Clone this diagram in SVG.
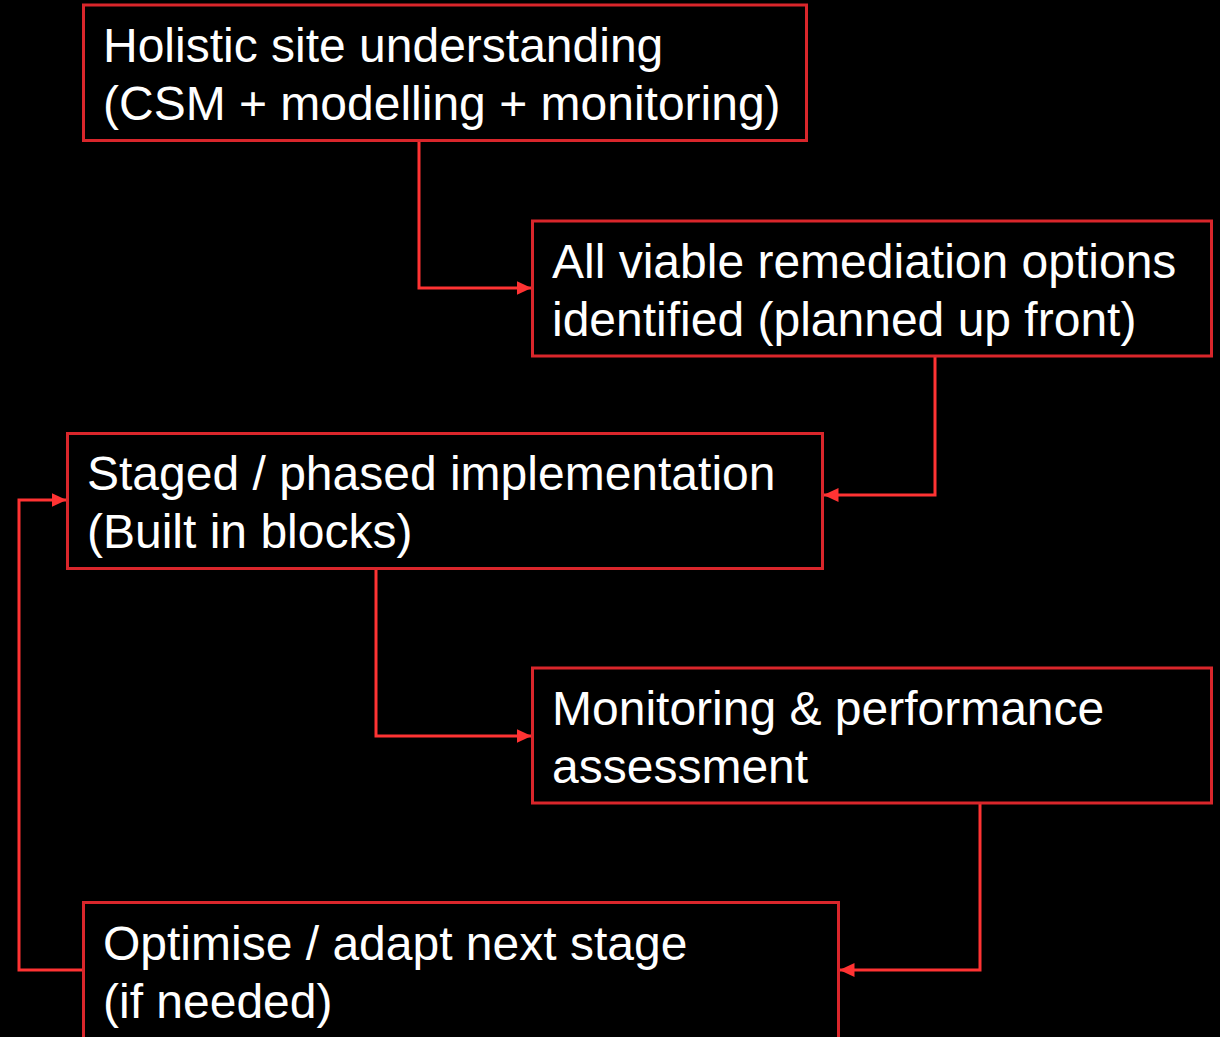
<svg xmlns="http://www.w3.org/2000/svg" width="1220" height="1037" viewBox="0 0 1220 1037">
  <style>
    .box { fill: #000; stroke: #d9262b; stroke-width: 3; }
    .label { font-family: "Liberation Sans", Arial, sans-serif; font-size: 48px; fill: #fff; }
    .link { fill: none; stroke: #ff3333; stroke-width: 3; }
  </style>
  <defs>
    <marker id="arrow" viewBox="0 0 15 14" refX="14.5" refY="7" markerWidth="15" markerHeight="14" markerUnits="userSpaceOnUse" orient="auto">
      <path d="M0,0 L15,7 L0,14 Z" fill="#ff3333"/>
    </marker>
  </defs>
  <rect width="1220" height="1037" fill="#000"/>

  <g id="connectors">
    <path class="link" d="M419,141 V288 H531" marker-end="url(#arrow)"/>
    <path class="link" d="M935,356 V495 H824" marker-end="url(#arrow)"/>
    <path class="link" d="M376,569 V736 H531" marker-end="url(#arrow)"/>
    <path class="link" d="M980,803 V970 H840" marker-end="url(#arrow)"/>
    <path class="link" d="M83,970 H19 V500 H66" marker-end="url(#arrow)"/>
  </g>

  <g id="node-understanding">
    <rect class="box" x="83.5" y="5" width="723" height="135.5"/>
    <text class="label" x="103" y="62">Holistic site understanding</text>
    <text class="label" x="103" y="120">(CSM + modelling + monitoring)</text>
  </g>

  <g id="node-options">
    <rect class="box" x="532.5" y="221" width="679" height="135"/>
    <text class="label" x="552" y="278">All viable remediation options</text>
    <text class="label" x="552" y="336">identified (planned up front)</text>
  </g>

  <g id="node-staged">
    <rect class="box" x="67.5" y="433.5" width="755" height="135"/>
    <text class="label" x="87" y="490">Staged / phased implementation</text>
    <text class="label" x="87" y="548">(Built in blocks)</text>
  </g>

  <g id="node-monitoring">
    <rect class="box" x="532.5" y="668" width="679" height="135"/>
    <text class="label" x="552" y="725">Monitoring &amp; performance</text>
    <text class="label" x="552" y="783">assessment</text>
  </g>

  <g id="node-optimise">
    <rect class="box" x="83.5" y="902.5" width="755" height="136"/>
    <text class="label" x="103" y="960">Optimise / adapt next stage</text>
    <text class="label" x="103" y="1018">(if needed)</text>
  </g>
</svg>
